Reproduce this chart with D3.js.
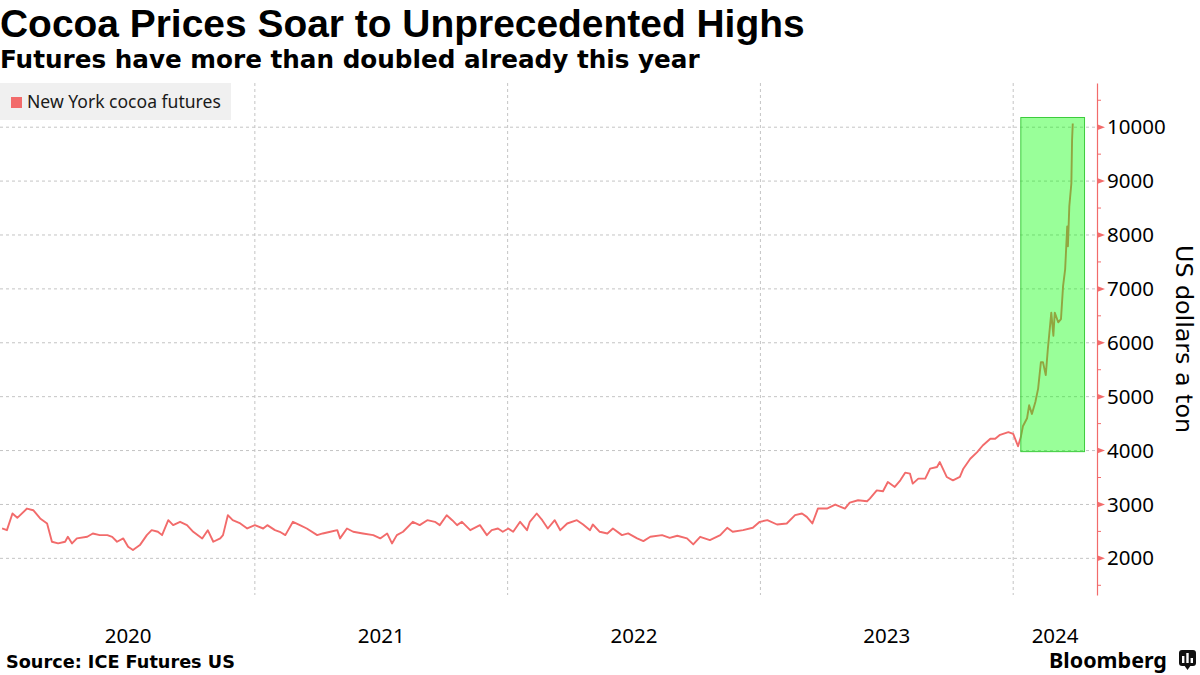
<!DOCTYPE html>
<html><head><meta charset="utf-8">
<script src="https://cdn.jsdelivr.net/npm/d3@7"></script>
<style>body{margin:0;background:#fff;} svg{display:block;}</style>
</head><body><svg id="c" width="1200" height="675"></svg>
<script>
// ---------- DATA ----------
const dates = [
"2020-01-02","2020-01-09","2020-01-17","2020-01-24","2020-02-07","2020-02-16","2020-02-26","2020-03-07","2020-03-14","2020-03-23",
"2020-04-02","2020-04-06","2020-04-12","2020-04-19","2020-05-04","2020-05-12","2020-05-22","2020-06-02","2020-06-09","2020-06-16",
"2020-06-25","2020-07-02","2020-07-09","2020-07-19","2020-07-29","2020-08-05","2020-08-14","2020-08-20","2020-08-29","2020-09-05",
"2020-09-15","2020-09-25","2020-10-04","2020-10-17","2020-10-25","2020-11-02","2020-11-12","2020-11-16","2020-11-23","2020-11-30",
"2020-12-11","2020-12-21","2021-01-01","2021-01-13","2021-01-19","2021-01-30","2021-02-06",
"2021-02-14","2021-02-25","2021-03-07","2021-03-17","2021-04-01","2021-04-09","2021-04-20","2021-04-30","2021-05-04","2021-05-14",
"2021-05-23","2021-06-06","2021-06-21","2021-07-01","2021-07-11","2021-07-18","2021-07-25","2021-08-03","2021-08-17","2021-08-27",
"2021-09-07","2021-09-18","2021-09-25","2021-10-05","2021-10-13","2021-10-20","2021-10-27","2021-11-08","2021-11-22","2021-12-02",
"2021-12-09","2021-12-18","2021-12-25","2022-01-02","2022-01-09","2022-01-19","2022-01-29","2022-02-02","2022-02-12","2022-02-20",
"2022-02-28","2022-03-10","2022-03-18","2022-03-28","2022-04-11","2022-04-20","2022-04-30","2022-05-04","2022-05-14","2022-05-25",
"2022-06-02","2022-06-15","2022-06-24","2022-07-07","2022-07-16","2022-07-26","2022-08-12","2022-08-23","2022-09-03","2022-09-17",
"2022-09-26","2022-10-06","2022-10-20","2022-11-04","2022-11-14","2022-11-22","2022-12-07","2022-12-21","2022-12-31","2023-01-11",
"2023-01-25","2023-02-08","2023-02-20","2023-03-02","2023-03-09","2023-03-17","2023-03-25","2023-04-07","2023-04-19","2023-05-03",
"2023-05-10","2023-05-22","2023-06-04","2023-06-08","2023-06-18","2023-06-27","2023-07-04","2023-07-14","2023-07-22","2023-07-29",
"2023-08-05","2023-08-09","2023-08-17","2023-08-27","2023-09-03","2023-09-13","2023-09-17","2023-09-27","2023-10-06","2023-10-16",
"2023-10-21","2023-10-31","2023-11-10","2023-11-18","2023-11-29","2023-12-06","2023-12-13","2023-12-25","2024-01-01","2024-01-08",
"2024-01-12","2024-01-15","2024-01-21","2024-01-24","2024-01-28","2024-02-02","2024-02-06","2024-02-10","2024-02-13","2024-02-17",
"2024-02-20","2024-02-25","2024-02-28","2024-03-01","2024-03-06","2024-03-10","2024-03-13","2024-03-16","2024-03-19","2024-03-20",
"2024-03-22","2024-03-25","2024-03-26","2024-03-27"
];
const prices = [
2555,2523,2832,2752,2924,2893,2740,2647,2308,2277,
2308,2400,2277,2370,2400,2462,2431,2431,2400,2308,
2370,2216,2154,2246,2431,2523,2493,2431,2708,2616,
2678,2616,2493,2370,2523,2308,2370,2431,2801,2708,
2647,2554,2616,2554,2616,2523,2493,
2431,2678,2616,2554,2431,2462,2493,2523,2370,2554,
2493,2462,2431,2370,2462,2277,2431,2493,2678,2616,
2708,2678,2616,2801,2708,2616,2678,2523,2616,2431,
2523,2554,2493,2554,2493,2678,2523,2678,2832,2708,
2554,2708,2523,2647,2708,2628,2523,2628,2493,2462,
2554,2431,2462,2370,2320,2400,2431,2380,2420,2370,
2259,2400,2339,2431,2567,2493,2523,2567,2678,2708,
2628,2647,2801,2832,2770,2647,2924,2924,2998,2924,
3035,3078,3060,3109,3262,3244,3417,3325,3447,3590,
3571,3386,3479,3479,3664,3695,3787,3510,3447,3510,
3664,3848,3972,4094,4218,4218,4292,4342,4311,4080,
4250,4450,4600,4840,4680,4900,5150,5640,5640,5400,
5880,6560,6130,6560,6380,6440,7050,7360,8160,7790,
8530,8960,9760,10070
];
const seriesName = "New York cocoa futures";
const yTicks = [2000,3000,4000,5000,6000,7000,8000,9000,10000];
const yMinorTicks = [1500,2500,3500,4500,5500,6500,7500,8500,9500,10500];
const yearLabels = ["2020","2021","2022","2023","2024"];
const gridYears = ["2021","2022","2023","2024"];
const highlightStart = "2024-01-12", highlightEnd = "2024-04-13";
const highlightLow = 3980, highlightHigh = 10180;
const titleText = "Cocoa Prices Soar to Unprecedented Highs";
const subtitleText = "Futures have more than doubled already this year";
const sourceText = "Source: ICE Futures US";
const axisTitle = "US dollars a ton";

// ---------- SETUP ----------
const parse = d3.utcParse("%Y-%m-%d");
const data = dates.map((d,i)=>({date:parse(d), v:prices[i]}));
const svg = d3.select("#c");
const RED = "#f26b6b";
const pLeft = 0, pRight = 1097, pTop = 83, pBottom = 595;
const domainStart = parse("2019-12-30"), domainEnd = parse("2024-05-01");
const x = d3.scaleUtc().domain([domainStart, domainEnd]).range([pLeft, pRight]);
const y = d3.scaleLinear().domain([1320, 10820]).range([pBottom, pTop]);

function fit(sel, w){
  const L = sel.node().getComputedTextLength();
  const fs = parseFloat(sel.attr("font-size"));
  sel.attr("font-size", (fs*w/L).toFixed(2));
}

// titles
fit(svg.append("text").attr("x",0).attr("y",37).attr("font-family","'Liberation Sans'").attr("font-weight","bold")
  .attr("font-size",34).attr("fill","#000").text(titleText), 805);
fit(svg.append("text").attr("x",0).attr("y",67.5).attr("font-family","'DejaVu Sans'").attr("font-weight","bold")
  .attr("font-size",22).attr("fill","#000").text(subtitleText), 700);

// grid
const g = svg.append("g");
g.selectAll("line.h").data(yTicks).join("line").attr("class","h")
  .attr("x1",pLeft).attr("x2",pRight).attr("y1",d=>y(d)).attr("y2",d=>y(d))
  .attr("stroke","#c4c4c4").attr("stroke-dasharray","3,3").attr("stroke-width",1);
g.selectAll("line.v").data(gridYears).join("line").attr("class","v")
  .attr("x1",d=>x(parse(d+"-01-01"))).attr("x2",d=>x(parse(d+"-01-01")))
  .attr("y1",pTop).attr("y2",pBottom)
  .attr("stroke","#c4c4c4").attr("stroke-dasharray","3,3").attr("stroke-width",1);

// legend
svg.append("rect").attr("x",0).attr("y",83).attr("width",231).attr("height",37).attr("fill","#f0f0f0");
svg.append("rect").attr("x",11).attr("y",97).attr("width",11).attr("height",11).attr("fill",RED);
fit(svg.append("text").attr("x",27).attr("y",108).attr("font-family","'Noto Sans'").attr("font-size",17.5)
  .attr("fill","#1a1a1a").text(seriesName), 194);

// line
const line = d3.line().x(d=>x(d.date)).y(d=>y(d.v));
svg.append("path").datum(data).attr("d",line).attr("fill","none").attr("stroke",RED)
  .attr("stroke-width",1.9).attr("stroke-linejoin","round");

// highlight
svg.append("rect")
  .attr("x",x(parse(highlightStart))).attr("y",y(highlightHigh))
  .attr("width",x(parse(highlightEnd))-x(parse(highlightStart)))
  .attr("height",y(highlightLow)-y(highlightHigh))
  .attr("fill","#00ff00").attr("fill-opacity",0.4).attr("stroke","#3ccc3c").attr("stroke-width",1);

// right axis
const ax = svg.append("g").attr("transform",`translate(${pRight},0)`)
  .call(d3.axisRight(y).tickValues(yTicks).tickSize(0).tickPadding(10).tickFormat(d3.format("d")));
ax.select(".domain").attr("stroke",RED).attr("stroke-width",1.2);
ax.selectAll(".tick text").attr("font-family","'Noto Sans'").attr("font-size",20.5).attr("fill","#000");
ax.selectAll("path.tri").data(yTicks).join("path").attr("class","tri")
  .attr("d",d=>`M0,${y(d)-3}L8,${y(d)}L0,${y(d)+3}Z`).attr("fill",RED);
ax.selectAll("line.minor").data(yMinorTicks).join("line").attr("class","minor")
  .attr("x1",0).attr("x2",4).attr("y1",d=>y(d)).attr("y2",d=>y(d)).attr("stroke",RED);

// axis title
fit(svg.append("text").attr("transform","translate(1176,339) rotate(90)").attr("text-anchor","middle")
  .attr("font-family","'DejaVu Sans'").attr("font-size",22).attr("fill","#000").text(axisTitle), 188);

// x labels
svg.selectAll("text.yr").data(yearLabels).join("text").attr("class","yr")
  .attr("x",d=>{
    const a = Math.max(x(parse(d+"-01-01")), pLeft);
    const b = Math.min(x(parse((+d+1)+"-01-01")), pRight);
    return (a+b)/2;
  })
  .attr("y",643).attr("text-anchor","middle").attr("font-family","'Noto Sans'").attr("font-size",20.5)
  .attr("fill","#000").text(d=>d);

// source
fit(svg.append("text").attr("x",6).attr("y",668).attr("font-family","'DejaVu Sans'").attr("font-weight","bold")
  .attr("font-size",17).attr("fill","#000").text(sourceText), 229);

// Bloomberg logo
fit(svg.append("text").attr("x",1049).attr("y",668).attr("font-family","'Noto Sans'").attr("font-weight","bold")
  .attr("font-size",22).attr("fill","#000").text("Bloomberg"), 118);
const logo = svg.append("g");
logo.append("rect").attr("x",1179).attr("y",650).attr("width",17).attr("height",16).attr("rx",3).attr("fill","#111");
logo.append("path").attr("d","M1184,665L1187.5,670L1191,665Z").attr("fill","#111");
logo.append("rect").attr("x",1182).attr("y",656).attr("width",2.4).attr("height",7).attr("fill","#fff");
logo.append("rect").attr("x",1186.3).attr("y",653).attr("width",2.4).attr("height",10).attr("fill","#fff");
logo.append("rect").attr("x",1190.6).attr("y",658).attr("width",2.4).attr("height",5).attr("fill","#fff");
</script></body></html>
